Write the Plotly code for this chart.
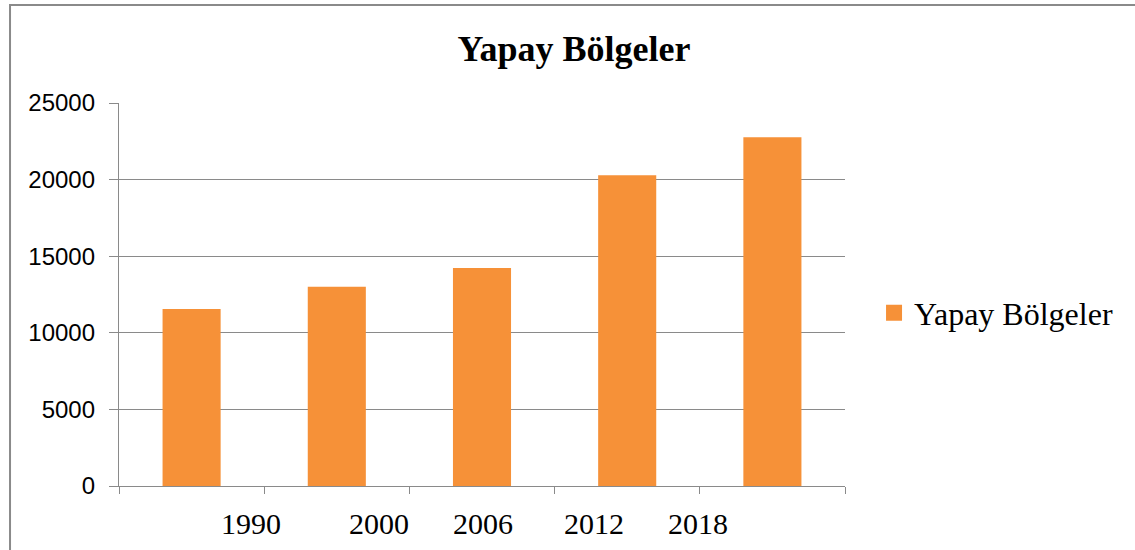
import plotly.graph_objects as go

# Yapay bölgeler (artificial areas) by year
years = ["1990", "2000", "2006", "2012", "2018"]
areas = [11550, 13000, 14230, 20280, 22760]

series_name = "Yapay Bölgeler"
chart_title = "Yapay Bölgeler"
y_ticks = [0, 5000, 10000, 15000, 20000, 25000]

# horizontal placement of each year label, in category units
label_pos = [0.41, 1.29, 2.01, 2.77, 3.49]

BAR = "#F69138"
GRID = "#8A8A8A"
SERIF = "Liberation Serif, Times New Roman, serif"
SANS = "Liberation Sans, Arial, sans-serif"

fig = go.Figure()
fig.add_trace(go.Bar(
    x=years, y=areas, width=0.4,
    marker=dict(color=BAR, line=dict(width=0)),
    name=series_name, showlegend=False,
))
# legend entry with a larger square swatch
fig.add_trace(go.Scatter(
    x=[None], y=[None], mode="markers", name=series_name,
    marker=dict(symbol="square", size=16, color=BAR),
))

for yr, pos in zip(years, label_pos):
    fig.add_annotation(
        x=pos, y=0, xref="x", yref="paper", text=yr, showarrow=False,
        yshift=-37, font=dict(family=SERIF, size=30, color="#000000"),
        xanchor="center", yanchor="middle",
    )

# outer chart frame
fig.add_shape(
    type="rect", xref="paper", yref="paper",
    x0=-0.1501, x1=1.6, y0=-0.4, y1=1.2559,
    line=dict(color=GRID, width=2), fillcolor="rgba(0,0,0,0)", layer="below",
)

fig.update_layout(
    width=1135, height=550,
    margin=dict(l=119, r=290, t=103, b=64),
    paper_bgcolor="white", plot_bgcolor="white",
    title=dict(
        text=chart_title, x=574 / 1135, xanchor="center",
        y=1 - 48 / 550, yanchor="middle", xref="container", yref="container",
        font=dict(family=SERIF, size=36, color="#000000", weight="bold"),
    ),
    legend=dict(
        x=1.0400, y=0.452, xanchor="left", yanchor="middle",
        font=dict(family=SERIF, size=32, color="#000000"),
        bgcolor="rgba(0,0,0,0)",
    ),
    bargap=0.6,
    xaxis=dict(
        type="category", range=[-0.5, 4.5], tickson="boundaries",
        showticklabels=False, ticks="outside", ticklen=7, tickwidth=1.3,
        tickcolor=GRID, showline=True, linecolor=GRID, linewidth=1.3,
        showgrid=False, zeroline=False, fixedrange=True,
    ),
    yaxis=dict(
        range=[0, 25000], tickvals=y_ticks, tickformat="d",
        ticks="outside", ticklen=9,
        tickwidth=1.3, tickcolor=GRID, showline=True, linecolor=GRID,
        linewidth=1.3, showgrid=True, gridcolor=GRID, gridwidth=1.3,
        zeroline=False, ticklabelstandoff=9,
        tickfont=dict(family=SANS, size=24, color="#000000"),
    ),
)

fig.write_html("out.html")
